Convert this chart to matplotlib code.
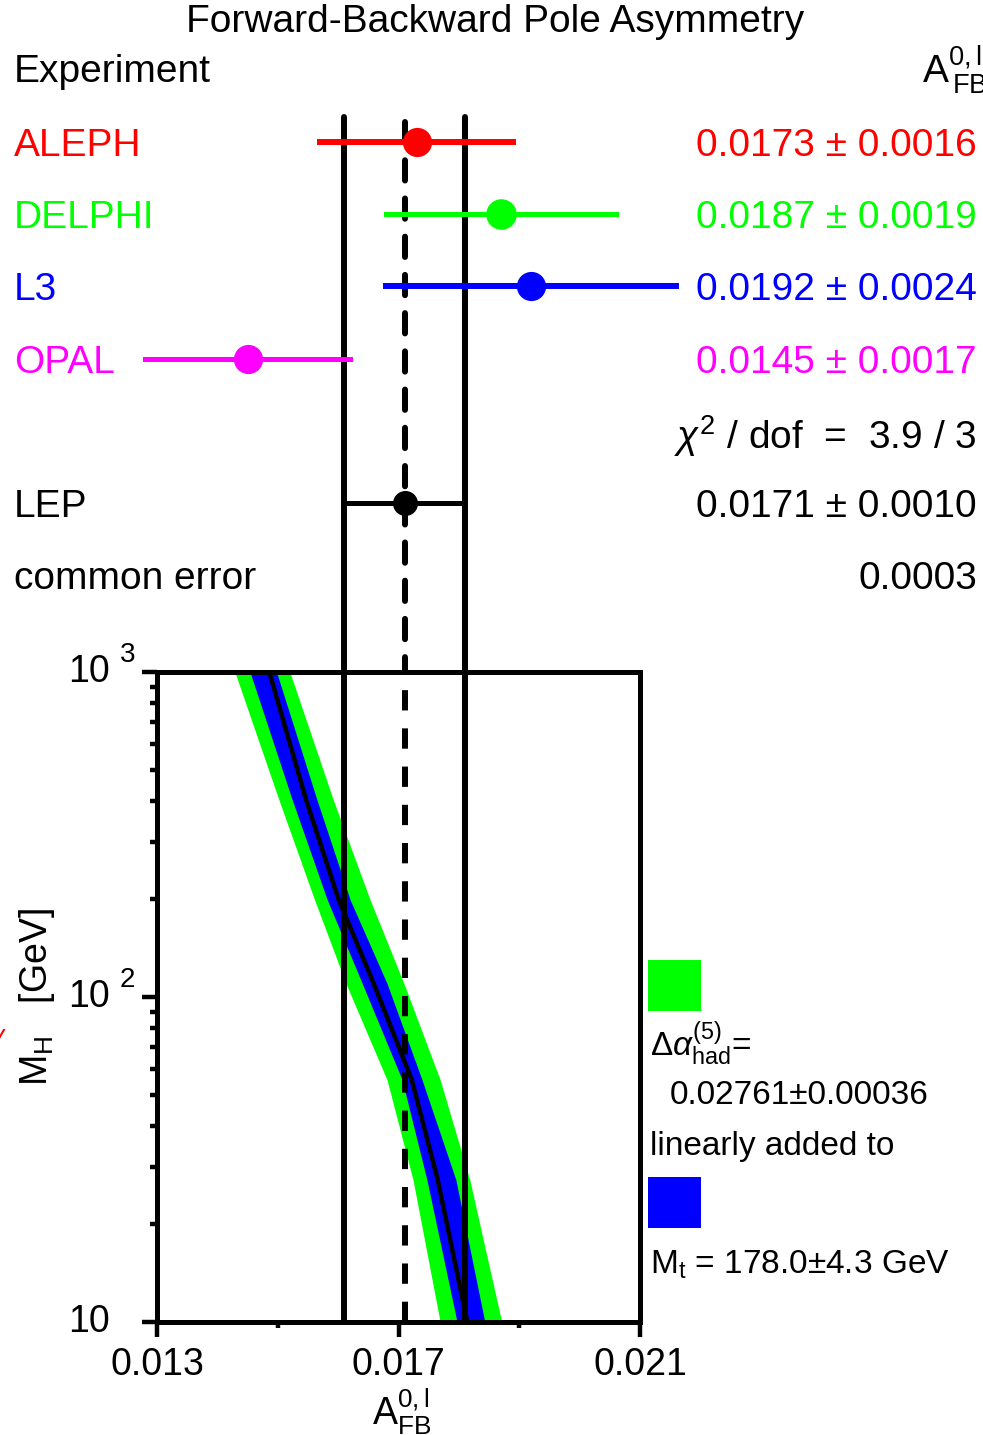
import matplotlib
matplotlib.use("Agg")
import matplotlib.pyplot as plt
from matplotlib.patches import Rectangle
from matplotlib import transforms
from matplotlib.ticker import FixedLocator, NullFormatter, FixedFormatter

# ---- measurements -------------------------------------------------------
experiments = ["ALEPH", "DELPHI", "L3", "OPAL"]
afb_values = [0.0173, 0.0187, 0.0192, 0.0145]
afb_errors = [0.0016, 0.0019, 0.0024, 0.0017]
exp_colors = ["#ff0000", "#00ff00", "#0000ff", "#ff00ff"]

lep_value = 0.0171
lep_error = 0.0010
chi2 = 3.9
ndof = 3
common_error = 0.0003

# ---- Standard Model prediction band vs. Higgs mass -----------------------
mh = [10, 27.4, 55.6, 110, 199, 404, 1000]
sm_center = [0.01814, 0.01765, 0.01722, 0.01659, 0.01601, 0.01547, 0.01486]
blue_lo = [0.01797, 0.01747, 0.01706, 0.01640, 0.01582, 0.01524, 0.01454]
blue_hi = [0.01843, 0.01795, 0.01739, 0.01681, 0.01620, 0.01565, 0.01498]
green_lo = [0.01769, 0.01724, 0.01681, 0.01613, 0.01561, 0.01502, 0.01429]
green_hi = [0.01871, 0.01818, 0.01769, 0.01709, 0.01653, 0.01592, 0.01520]

x_ticks = [0.013, 0.017, 0.021]
x_minor = [0.015, 0.019]
x_ticklabels = ["0.013", "0.017", "0.021"]

alpha_had = "0.02761\u00b10.00036"
mtop = "178.0\u00b14.3 GeV"

# ---- figure geometry ----------------------------------------------------
W, H = 983, 1435
FONT = "Liberation Sans"
plt.rcParams["font.family"] = [FONT, "DejaVu Sans"]
plt.rcParams["mathtext.fontset"] = "custom"
plt.rcParams["mathtext.rm"] = FONT
plt.rcParams["mathtext.it"] = FONT + ":italic"
plt.rcParams["mathtext.bf"] = FONT + ":bold"

fig = plt.figure(figsize=(W / 100, H / 100), dpi=100)


def fx(px):
    return px / W


def fy(py):
    return 1 - py / H


AX_L, AX_R, AX_T, AX_B = 157, 640, 672, 1322
UP_T = 100
ROW0, ROWSTEP = 142, 72.2
BIG = 28
LEG = 24

ax = fig.add_axes([fx(AX_L), fy(AX_B), (AX_R - AX_L) / W, (AX_B - AX_T) / H])
axu = fig.add_axes([fx(AX_L), fy(AX_T), (AX_R - AX_L) / W, (AX_T - UP_T) / H])
for a in (ax, axu):
    a.set_xlim(0.013, 0.021)
axu.set_ylim((AX_T - ROW0) / ROWSTEP, (UP_T - ROW0) / ROWSTEP)
axu.axis("off")

row_tr = transforms.blended_transform_factory(fig.transFigure, axu.transData)

# ---- upper panel: individual measurements -------------------------------
lw_v = 4.3
y_top_solid = (117 - ROW0) / ROWSTEP
y_top_dash = (122 - ROW0) / ROWSTEP
y_bot = (AX_T - ROW0) / ROWSTEP
dash = (0, (3.4, 3.0))
for xv in (lep_value - lep_error, lep_value + lep_error):
    axu.plot([xv, xv], [y_top_solid, y_bot], color="black", lw=lw_v,
             solid_capstyle="round", clip_on=False)
    ax.axvline(xv, color="black", lw=lw_v, zorder=4)
axu.plot([lep_value, lep_value], [y_top_dash, y_bot], color="black", lw=lw_v,
         linestyle=dash, dash_capstyle="round", clip_on=False)
ax.axvline(lep_value, color="black", lw=lw_v, linestyle=dash, zorder=4)

bar_lw = [4.3, 3.6, 4.3, 3.6]
marker_sz = [20, 21, 20, 20]
for i, (name, v, e, c) in enumerate(zip(experiments, afb_values, afb_errors, exp_colors)):
    axu.plot([v - e, v + e], [i, i], color=c, lw=bar_lw[i], clip_on=False, zorder=5)
    axu.plot([v], [i], "o", color=c, ms=marker_sz[i], mec=c, clip_on=False, zorder=6)
    fig.text(fx(14), i, name, transform=row_tr, color=c, fontsize=BIG,
             ha="left", va="center_baseline")
    fig.text(fx(977), i, f"{v:.4f} \u00b1 {e:.4f}", transform=row_tr, color=c,
             fontsize=BIG, ha="right", va="center_baseline")

ROW_CHI, ROW_LEP, ROW_COMMON = 4, 5, 6
axu.plot([lep_value - lep_error, lep_value + lep_error], [ROW_LEP, ROW_LEP],
         color="black", lw=3.6, clip_on=False, zorder=5)
axu.plot([lep_value], [ROW_LEP], "o", color="black", ms=17, clip_on=False, zorder=6)

fig.text(fx(977), ROW_CHI, rf"$\chi^2$ / dof  =  {chi2:.1f} / {ndof:d}",
         transform=row_tr, fontsize=BIG, ha="right", va="center_baseline")
fig.text(fx(14), ROW_LEP, "LEP", transform=row_tr, fontsize=BIG,
         ha="left", va="center_baseline")
fig.text(fx(977), ROW_LEP, f"{lep_value:.4f} \u00b1 {lep_error:.4f}",
         transform=row_tr, fontsize=BIG, ha="right", va="center_baseline")
fig.text(fx(14), ROW_COMMON, "common error", transform=row_tr, fontsize=BIG,
         ha="left", va="center_baseline")
fig.text(fx(977), ROW_COMMON, f"{common_error:.4f}", transform=row_tr,
         fontsize=BIG, ha="right", va="center_baseline")

fig.text(fx(495), fy(22), "Forward-Backward Pole Asymmetry", fontsize=BIG,
         ha="center", va="center")
fig.text(fx(14), fy(72), "Experiment", fontsize=BIG, ha="left", va="center")
fig.text(fx(922), fy(70), r"A$^{\mathregular{0,l}}_{\,\mathregular{FB}}$",
         fontsize=BIG, ha="left", va="center")

# ---- lower panel: SM band -----------------------------------------------
ax.set_yscale("log")
ax.set_ylim(10, 1000)
ax.fill_betweenx(mh, green_lo, green_hi, color="#00ff00", lw=0, zorder=1)
ax.fill_betweenx(mh, blue_lo, blue_hi, color="#0000ff", lw=0, zorder=2)
ax.plot(sm_center, mh, color="black", lw=3.2, zorder=3)

for s in ax.spines.values():
    s.set_linewidth(3.6)
ax.xaxis.set_major_locator(FixedLocator(x_ticks))
ax.xaxis.set_minor_locator(FixedLocator(x_minor))
ax.xaxis.set_major_formatter(FixedFormatter(x_ticklabels))
ax.xaxis.set_minor_formatter(NullFormatter())
ax.tick_params(axis="x", which="major", direction="out", length=11, width=3.2,
               pad=7, labelsize=27)
ax.tick_params(axis="x", which="minor", direction="out", length=4, width=3.2)

y_major = [10, 100, 1000]
y_minor = [m * d for d in (10, 100) for m in range(2, 10)]
ax.yaxis.set_major_locator(FixedLocator(y_major))
ax.yaxis.set_minor_locator(FixedLocator(y_minor))
ax.yaxis.set_major_formatter(NullFormatter())
ax.yaxis.set_minor_formatter(NullFormatter())
ax.tick_params(axis="y", which="major", direction="out", length=10.5, width=3.2)
ax.tick_params(axis="y", which="minor", direction="out", length=5, width=3.2)

ylab_tr = transforms.blended_transform_factory(fig.transFigure, ax.transData)
sup_tr = transforms.offset_copy(ylab_tr, fig=fig, x=0, y=12.5, units="points")
for val in y_major:
    fig.text(fx(68), val, "10", transform=ylab_tr, fontsize=27,
             ha="left", va="center")
    if val > 10:
        exp = {100: "2", 1000: "3"}[val]
        fig.text(fx(120), val, exp, transform=sup_tr, fontsize=20,
                 ha="left", va="center")

fig.text(fx(37), fy(997), r"M$_{\mathregular{H}}$   [GeV]", rotation=90,
         fontsize=27, ha="center", va="center")
fig.text(fx(372), fy(1412), r"A$^{\mathregular{0,l}}_{\mathregular{FB}}$",
         fontsize=27, ha="left", va="center")

# stray red glyph at the left edge
fig.text(fx(-4), fy(1040), "V", color="#ff0000", fontsize=17, style="italic",
         ha="center", va="center")

# ---- legend for the band -------------------------------------------------
fig.add_artist(Rectangle((fx(648), fy(1011)), 53 / W, 51 / H,
                         transform=fig.transFigure, color="#00ff00", lw=0))
fig.add_artist(Rectangle((fx(648), fy(1228)), 53 / W, 51 / H,
                         transform=fig.transFigure, color="#0000ff", lw=0))
fig.text(fx(650), fy(1057), r"$\Delta\alpha^{(5)}_{\mathregular{had}}$=",
         fontsize=LEG, ha="left", va="baseline")
fig.text(fx(670), fy(1096), alpha_had, fontsize=LEG, ha="left", va="center")
fig.text(fx(650), fy(1143), "linearly added to", fontsize=LEG, ha="left",
         va="center_baseline")
fig.text(fx(650), fy(1265), r"M$_{\mathregular{t}}$ = " + mtop, fontsize=LEG,
         ha="left", va="center")

fig.savefig("out.png", dpi=100)
